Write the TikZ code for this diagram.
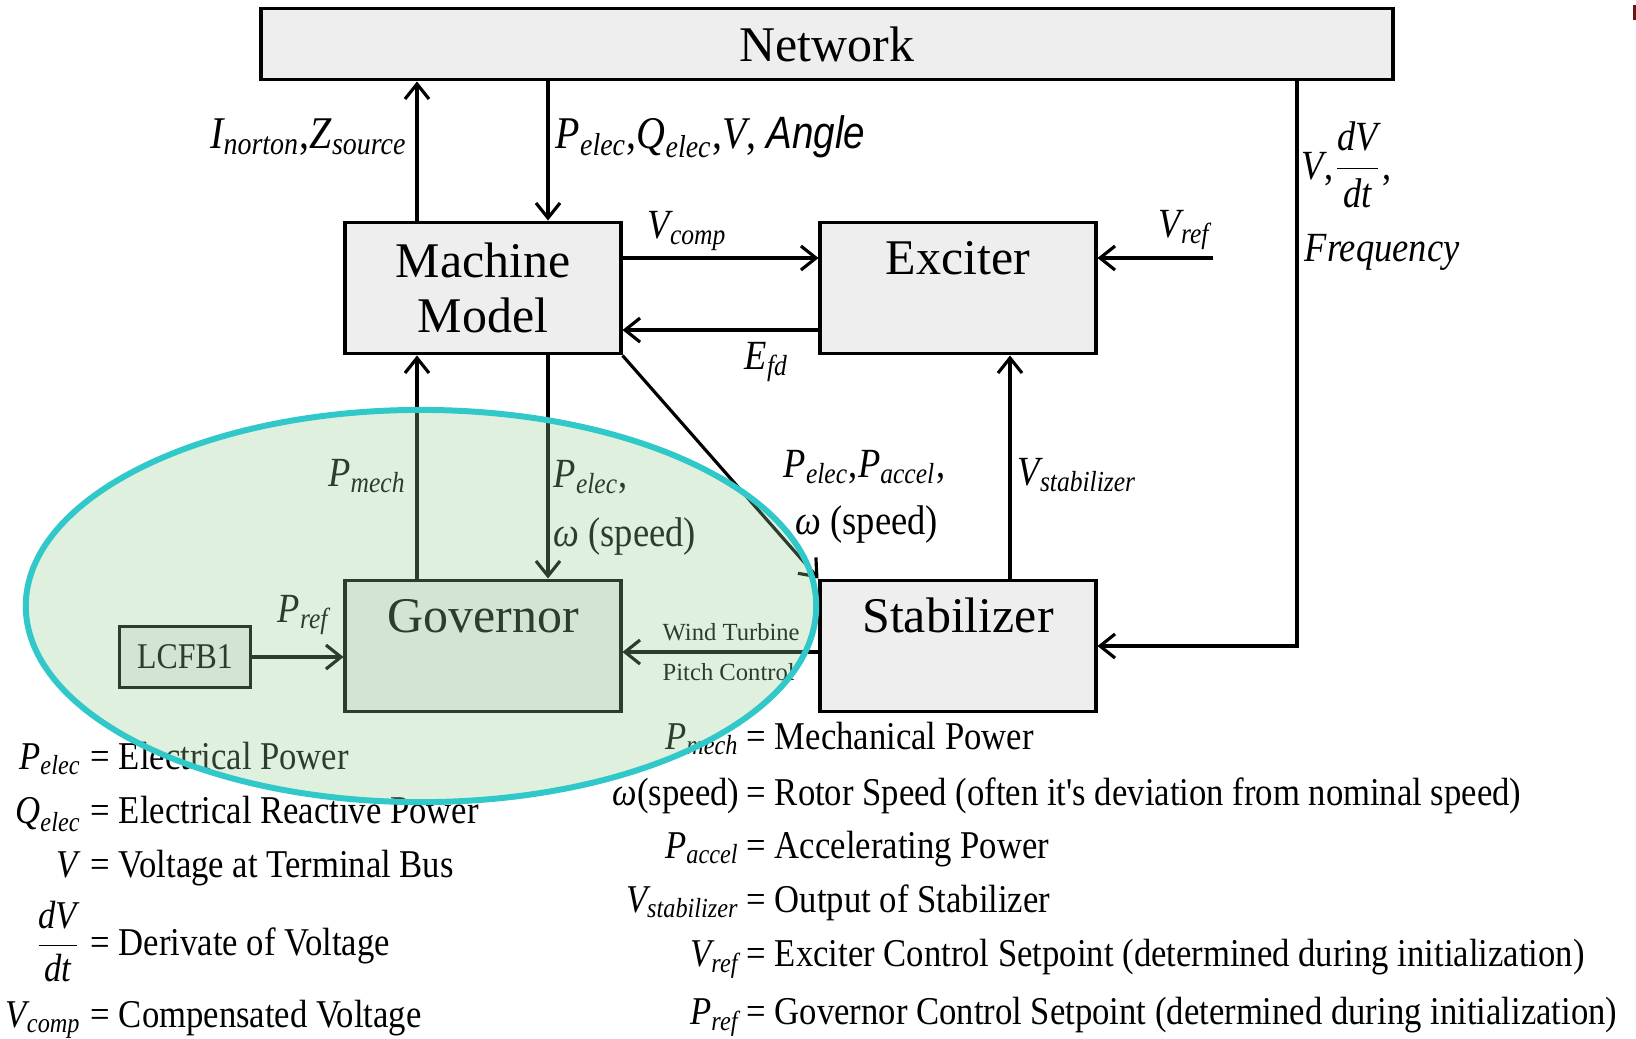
\documentclass[tikz,border=0pt]{standalone}
\usepackage{amsmath}
\usepackage{fontspec}
\setmainfont{Liberation Serif}
\setsansfont{Liberation Sans}
\newfontfamily\legendfont[FakeStretch=0.88]{Liberation Serif}
\newfontfamily\anglefont[FakeStretch=0.85]{Liberation Sans}
\usetikzlibrary{arrows.meta}
\definecolor{boxgray}{RGB}{238,238,238}
\definecolor{ovalgreen}{RGB}{150,205,150}
\definecolor{ovalteal}{RGB}{48,200,200}
\definecolor{markred}{RGB}{110,20,20}
\newcommand{\qsym}[2]{$\textit{#1}_{\textit{#2}}$}

\begin{document}
\begin{tikzpicture}[x=0.01cm, y=-0.01cm,
  block/.style = {draw, fill=boxgray, line width=1.1pt, minimum width=2.75cm, minimum height=1.31cm, inner sep=0pt, font=\fontsize{14.2}{15.6}\selectfont},
  topblock/.style = {block, text height=0.52cm, text depth=0.79cm},
  flow/.style = {line width=0.9pt, -{Straight Barb[length=1.5mm, width=2.4mm]}},
  lbl/.style = {inner sep=0pt, font=\legendfont\fontsize{11.8}{13}\selectfont},
  toplbl/.style = {inner sep=0pt, font=\legendfont\fontsize{12.9}{14}\selectfont},
  tinylbl/.style = {inner sep=0pt, font=\fontsize{7}{8}\selectfont},
  legend/.style = {inner sep=0pt, font=\legendfont\fontsize{11.2}{13}\selectfont}]
\useasboundingbox (0,0) rectangle (1636,1038);

% blocks
\node[block, minimum width=11.32cm, minimum height=0.71cm] (net) at (827,44) {Network};
\node[block, align=center] (mach) at (483,288) {Machine\\Model};
\node[topblock] (exc) at (958,288) {Exciter};
\node[topblock] (gov) at (483,646) {Governor};
\node[topblock] (stab) at (958,646) {Stabilizer};
\node[block, minimum width=1.31cm, minimum height=0.61cm, font=\legendfont\fontsize{10.3}{12}\selectfont] (lcfb) at (185,657) {LCFB1};

% lanes of the vertical connectors
\coordinate (lane1) at (417,0);
\coordinate (lane2) at (548,0);
\coordinate (lane3) at (1010,0);
\coordinate (lane4) at (1297,0);
\coordinate (vref) at (1213,258);

% connectors
\draw[flow] (mach.north -| lane1) -- (net.south -| lane1);
\draw[flow] (net.south -| lane2) -- (mach.north -| lane2);
\draw[flow] ([yshift=3mm]mach.east) -- ([yshift=3mm]exc.west);
\draw[flow] ([yshift=-4.2mm]exc.west) -- ([yshift=-4.2mm]mach.east);
\draw[flow] (vref) -- (vref -| exc.east);
\draw[flow] (net.south -| lane4) |- (stab.east);
\draw[flow] (gov.north -| lane1) -- (mach.south -| lane1);
\draw[flow] (mach.south -| lane2) -- (gov.north -| lane2);
\draw[flow] (mach.south east) -- (stab.north west);
\draw[flow] (stab.north -| lane3) -- (exc.south -| lane3);
\draw[flow] ([yshift=-0.6mm]stab.west) -- ([yshift=-0.6mm]gov.east);
\draw[flow] (lcfb.east) -- (lcfb.east -| gov.west);

% connector labels
\node[toplbl, anchor=base east] (lnorton) at (408,148) {\qsym{I}{norton},\qsym{Z}{source}};
\node[toplbl, anchor=base west] (lnet) at (555,148) {\qsym{P}{elec},\qsym{Q}{elec},\textit{V}, {\anglefont\itshape Angle}};
\node[lbl, anchor=base west] (lvcomp) at (647,238) {\qsym{V}{comp}};
\node[lbl, anchor=base west] (lefd) at (744,369) {\qsym{E}{fd}};
\node[lbl, anchor=base west] (lvref) at (1158,237) {\qsym{V}{ref}};
\node[lbl, anchor=base west] (ldvdt) at (1301,179) {\textit{V},$\dfrac{\textit{dV}}{\textit{dt}}$,};
\node[lbl, anchor=base west] (lfreq) at (1304,261) {\itshape Frequency};
\node[lbl, anchor=base east] (lpmech) at (407,486) {\qsym{P}{mech}};
\node[lbl, anchor=base west] (lpelec) at (553,487) {\qsym{P}{elec},};
\node[lbl, anchor=base west] (lspeed) at (553,546) {{\itshape ω} (speed)};
\node[lbl, anchor=base west] (lpaccel) at (783,477) {\qsym{P}{elec},\qsym{P}{accel},};
\node[lbl, anchor=base west] (lspeed2) at (795,534) {{\itshape ω} (speed)};
\node[lbl, anchor=base west] (lvstab) at (1017,485) {\qsym{V}{stabilizer}};
\node[lbl, anchor=base west] (lpref) at (277,622) {\qsym{P}{ref}};
\node[tinylbl, anchor=base west] (lwind) at (662,640) {Wind Turbine};
\node[tinylbl, anchor=base west] (lpitch) at (662,680) {Pitch Control};

% legend
\foreach \ly/\lsym/\desc [count=\i] in {769/{\qsym{P}{elec}}/Electrical Power,
    823/{\qsym{Q}{elec}}/Electrical Reactive Power,
    877/{\textit{V}}/Voltage at Terminal Bus,
    955/{$\dfrac{\textit{dV}}{\textit{dt}}$}/Derivate of Voltage,
    1027/{\qsym{V}{comp}}/Compensated Voltage} {
  \node[legend, anchor=base east] (lsym\i) at (82,\ly) {\lsym};
  \node[legend, anchor=base west] (ldesc\i) at (90,\ly) {= \desc};
}
\foreach \ly/\lsym/\desc [count=\i] in {749/{\qsym{P}{mech}}/Mechanical Power,
    805/{{\itshape ω}(speed)}/Rotor Speed (often it's deviation from nominal speed),
    858/{\qsym{P}{accel}}/Accelerating Power,
    912/{\qsym{V}{stabilizer}}/Output of Stabilizer,
    966/{\qsym{V}{ref}}/Exciter Control Setpoint (determined during initialization),
    1024/{\qsym{P}{ref}}/Governor Control Setpoint (determined during initialization)} {
  \node[legend, anchor=base east] (rsym\i) at (740,\ly) {\lsym};
  \node[legend, anchor=base west] (rdesc\i) at (746,\ly) {= \desc};
}

% highlight round the governor
\draw[ovalteal, line width=1.7pt, fill=ovalgreen, fill opacity=0.3] (421,606) ellipse [x radius=3.95cm, y radius=1.96cm];
\fill[markred] (1633,5) rectangle (1636,20);
\end{tikzpicture}
\end{document}
